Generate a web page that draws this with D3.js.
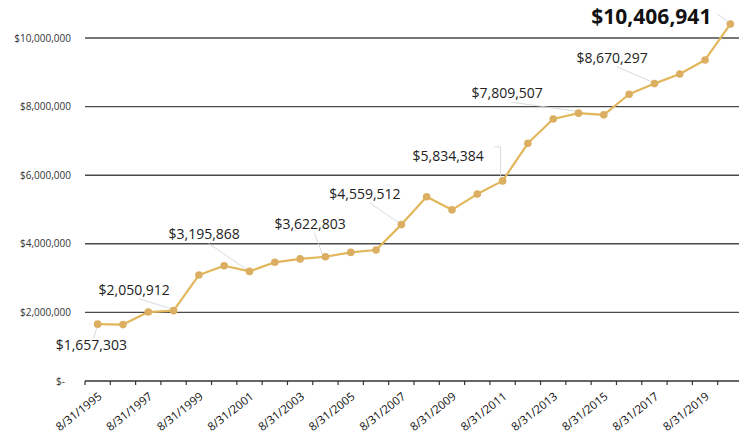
<!doctype html>
<html lang="en">
<head>
<meta charset="utf-8">
<script src="https://cdn.jsdelivr.net/npm/d3@7"></script>
<style>
    body { margin: 0; background: #fff; font-family: "Open Sans", sans-serif; }
    .lbl { font-size: 14px; fill: #222; }
    .lbl.big { font-size: 21px; font-weight: bold; fill: #111; }
    .leader { stroke: #cdd2d5; stroke-width: 0.8; fill: none; }
</style>
</head>
<body>
<div id="chart"></div>
<script>
    // values on 8/31 of each year
    var years = ["1995","1996","1997","1998","1999","2000","2001","2002","2003","2004","2005","2006","2007",
                 "2008","2009","2010","2011","2012","2013","2014","2015","2016","2017","2018","2019","2020"];
    var values = [1657303, 1645000, 2010000, 2050912, 3090000, 3360000, 3195868, 3460000, 3560000, 3622803,
                  3750000, 3820000, 4559512, 5370000, 4990000, 5450000, 5834384, 6930000, 7640000, 7809507,
                  7760000, 8360000, 8670297, 8950000, 9360000, 10406941];
    var tickYears = ["1995","1997","1999","2001","2003","2005","2007","2009","2011","2013","2015","2017","2019"];
    var yTicks = [0, 2000000, 4000000, 6000000, 8000000, 10000000];
    var labelYears = ["1995","1998","2001","2004","2007","2011","2014","2017","2020"];

    // where each data label sits relative to its point
    var callouts = [
        {dx: -42, dy: 26},
        {dx: -75, dy: -16},
        {dx: -81, dy: -32},
        {dx: -51, dy: -28},
        {dx: -72, dy: -26},
        {dx: -90, dy: -20},
        {dx: -107, dy: -15},
        {dx: -78, dy: -21},
        {dx: -139, dy: 0, big: true}
    ];

    var W = 739, H = 434;
    var svg = d3.select("#chart").append("svg")
        .attr("width", W)
        .attr("height", H);

    var x = d3.scaleBand()
        .domain(years)
        .range([85, 743]);

    var y = d3.scaleLinear()
        .domain([0, 10000000])
        .range([381, 38]);

    var fmt = d3.format(",");

    // grid lines
    svg.append("g")
        .selectAll("line")
        .data(yTicks.filter(d => d > 0))
        .join("line")
        .attr("x1", 85).attr("x2", W)
        .attr("y1", d => y(d)).attr("y2", d => y(d))
        .attr("stroke", "#4a4a4a")
        .attr("stroke-width", 1.4);

    // y labels
    svg.append("g")
        .selectAll("text")
        .data(yTicks)
        .join("text")
        .attr("x", d => d === 0 ? 65 : 71)
        .attr("y", d => y(d))
        .attr("dy", "0.35em")
        .attr("text-anchor", "end")
        .attr("font-size", "10px")
        .attr("fill", "#333")
        .text(d => d === 0 ? "$-" : "$" + fmt(d));

    // x axis, ticks at band edges
    svg.append("line")
        .attr("x1", 85).attr("x2", W)
        .attr("y1", y(0)).attr("y2", y(0))
        .attr("stroke", "#333")
        .attr("stroke-width", 1.4);

    svg.append("g")
        .selectAll("line")
        .data(years)
        .join("line")
        .attr("x1", d => x(d)).attr("x2", d => x(d))
        .attr("y1", y(0)).attr("y2", y(0) + 4)
        .attr("stroke", "#333")
        .attr("stroke-width", 1.2);

    svg.append("g")
        .selectAll("text")
        .data(tickYears)
        .join("text")
        .attr("transform", d => "translate(" + (x(d) + x.bandwidth() / 2 + 5) + "," + (y(0) + 17) + ") rotate(-38)")
        .attr("text-anchor", "end")
        .attr("font-size", "11.5px")
        .attr("fill", "#111")
        .text(d => "8/31/" + d);

    var data = years.map((d, i) => ({year: d, value: values[i]}));
    var cx = d => x(d.year) + x.bandwidth() / 2;

    callouts.forEach((c, i) => {
        c.year = labelYears[i];
        var d = data.find(e => e.year === c.year);
        c.px = cx(d);
        c.py = y(d.value);
        c.value = d.value;
    });

    // leader lines
    svg.append("g")
        .selectAll("path")
        .data(callouts)
        .join("path")
        .attr("class", "leader")
        .attr("d", c => {
            if (c.year === "1995") return "M" + (c.px - 4) + "," + (c.py + 14) + "L" + (c.px - 1) + "," + (c.py + 4);
            if (c.year === "2011") return "M" + (c.px - 8) + "," + (c.py - 34) + "H" + (c.px - 2) + "V" + (c.py - 4);
            if (c.year === "2020") return "M" + (c.px - 13) + "," + (c.py - 10) + "L" + (c.px - 3) + "," + (c.py - 3);
            var tx = c.px + c.dx;
            return "M" + (tx + 40) + "," + (c.py + c.dy + 4) + "L" + (c.px - 3) + "," + (c.py - 2);
        });

    // line and markers
    svg.append("path")
        .datum(data)
        .attr("fill", "none")
        .attr("stroke", "#e2b65a")
        .attr("stroke-width", 2.2)
        .attr("stroke-linejoin", "round")
        .attr("d", d3.line()
            .x(cx)
            .y(d => y(d.value)));

    svg.append("g")
        .selectAll("circle")
        .data(data)
        .join("circle")
        .attr("cx", cx)
        .attr("cy", d => y(d.value))
        .attr("r", 3.8)
        .attr("fill", "#dbae62");

    // data labels
    svg.append("g")
        .selectAll("text")
        .data(callouts)
        .join("text")
        .attr("class", c => c.big ? "lbl big" : "lbl")
        .attr("x", c => c.px + c.dx)
        .attr("y", c => c.py + c.dy)
        .text(c => "$" + fmt(c.value));
</script>
</body>
</html>
